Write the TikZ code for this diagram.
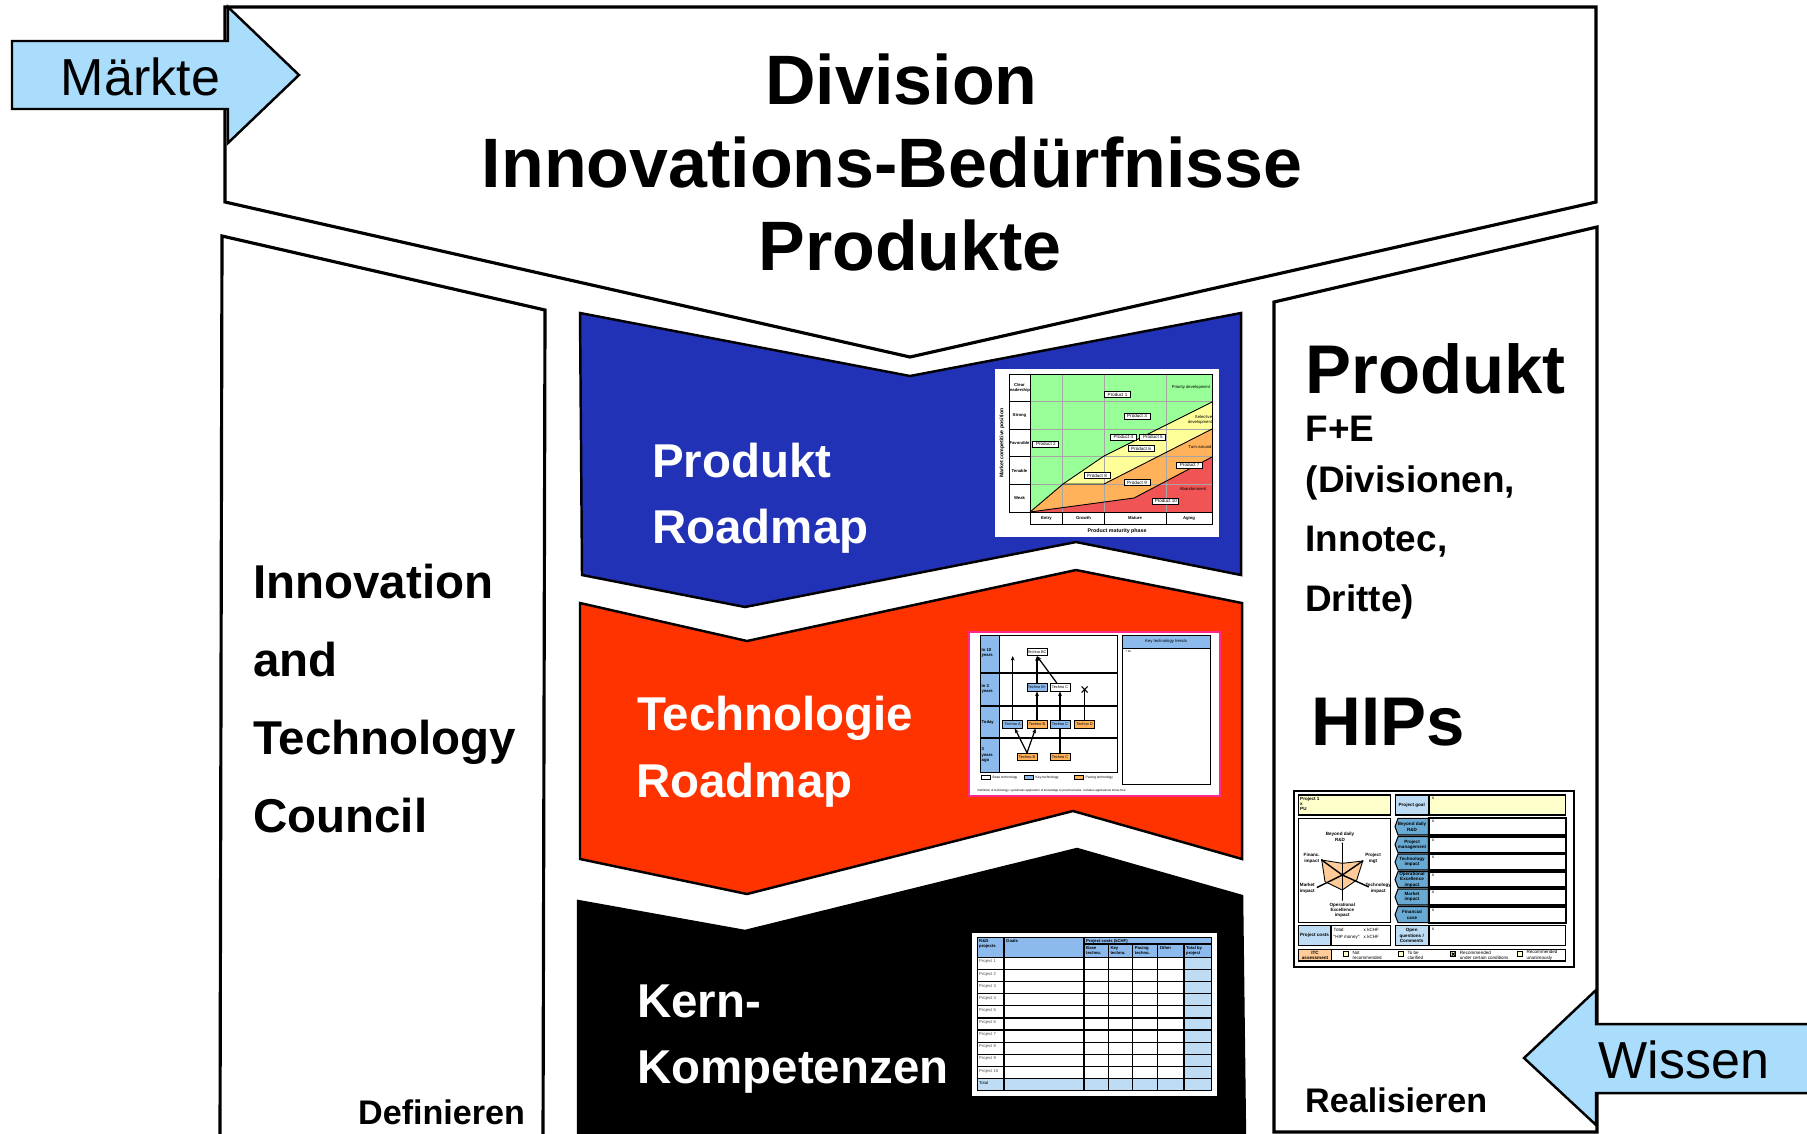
\documentclass[tikz,border=0pt]{standalone}
\usepackage{fontspec}
\setmainfont{Liberation Sans}
\usetikzlibrary{arrows.meta}

\definecolor{pfeilblau}{RGB}{170,220,252}
\definecolor{roadblau}{RGB}{33,50,182}
\definecolor{techrot}{RGB}{255,51,0}
\definecolor{hellblau}{RGB}{140,186,236}
\definecolor{blassblau}{RGB}{190,221,245}
\definecolor{tabblau}{RGB}{105,170,212}
\definecolor{pgruen}{RGB}{153,255,153}
\definecolor{pgelb}{RGB}{255,255,153}
\definecolor{porange}{RGB}{255,178,90}
\definecolor{prot}{RGB}{240,84,84}
\definecolor{hipgelb}{RGB}{255,255,204}
\definecolor{hiporange}{RGB}{255,204,153}
\definecolor{rahmenpink}{RGB}{255,40,140}

\newcommand{\winzig}{\fontsize{1.2}{1.45}\selectfont}
\newcommand{\hipfont}{\fontsize{1.3}{1.55}\selectfont}

\tikzset{
	umriss/.style={draw=black, line width=0.9pt, line join=miter},
	titel/.style={font=\fontsize{19.9}{23}\selectfont\bfseries, anchor=base, inner sep=0},
	rat/.style={font=\fontsize{13.5}{16}\selectfont\bfseries, anchor=base west, inner sep=0},
	weiss/.style={rat, text=white},
	gross/.style={font=\fontsize{19.6}{23}\selectfont\bfseries, anchor=base west, inner sep=0},
	mittel/.style={font=\fontsize{10.5}{12}\selectfont\bfseries, anchor=base west, inner sep=0},
	pfeiltext/.style={font=\fontsize{14.8}{17}\selectfont, anchor=base, inner sep=0},
	fuss/.style={font=\fontsize{9.7}{11}\selectfont\bfseries, anchor=base west, inner sep=0},
	mini/.style={font=\winzig, inner sep=0},
	minifett/.style={font=\winzig\bfseries, inner sep=0},
	hip/.style={font=\hipfont, inner sep=0},
	hipfett/.style={font=\hipfont\bfseries, inner sep=0},
	duenn/.style={line width=0.25pt},
	gitter/.style={gray!70, line width=0.2pt},
	pbox/.style={draw, fill=white, line width=0.25pt, minimum width=0.26cm, minimum height=0.06cm, inner sep=0, font=\fontsize{1.3}{1.5}\selectfont},
	tbox/.style={draw, line width=0.25pt, minimum width=0.2cm, minimum height=0.075cm, inner sep=0, font=\fontsize{1.1}{1.3}\selectfont},
	pfeil/.style={line width=0.35pt, -{Stealth[length=1.3pt, width=1.1pt]}},
	kasten/.style={draw, line width=0.3pt}
}

\begin{document}
\begin{tikzpicture}[x=0.01cm, y=-0.01cm]
	\clip (0,0) rectangle (1807,1133);
	\fill[white] (0,0) rectangle (1807,1133);

	% Rahmen
	\draw[umriss, fill=white] (225,7) -- (1596,7) -- (1596,202) -- (910,357) -- (225,202) -- cycle;
	\draw[umriss, fill=white] (222,236) -- (545,310) -- (543,1140) -- (220,1140) -- cycle;
	\draw[umriss, fill=white] (1274,302) -- (1597,227) -- (1597,1132) -- (1274,1132) -- cycle;

	\draw[umriss, fill=pfeilblau, line width=0.7pt] (12,41) -- (228,41) -- (228,7) -- (299,75) -- (228,143) -- (228,109) -- (12,109) -- cycle;
	\node[pfeiltext] (maerkte) at (140.5,95) {Märkte};
	\draw[umriss, fill=pfeilblau, line width=0.7pt] (1820,1024) -- (1596,1024) -- (1596,990) -- (1524,1058) -- (1596,1125) -- (1596,1093) -- (1820,1093);
	\node[pfeiltext] (wissen) at (1684,1078) {Wissen};

	\draw[umriss, fill=roadblau, line width=0.7pt] (580,313) -- (910,376) -- (1241,313) -- (1241,575) -- (1076,542) -- (745,607) -- (582,575) -- cycle;
	\draw[umriss, fill=techrot, line width=0.7pt] (580,603) -- (747,641) -- (1076,570) -- (1242,603) -- (1242,859) -- (1073,811) -- (747,894) -- (580,859) -- cycle;
	\draw[umriss, fill=black, line width=0.7pt] (578,901) -- (745,931) -- (1077,849) -- (1242,896) -- (1245,1140) -- (578,1140) -- cycle;

	\node[titel] (division) at (901.5,104) {Division};
	\node[titel] (beduerfnis) at (892,187) {Innovations-Bedürfnisse};
	\node[titel] (produkte) at (910,270) {Produkte};

	\node[rat] (itc1) at (252.5,598) {Innovation};
	\node[rat] (itc2) at (252.5,676) {and};
	\node[rat] (itc3) at (252.5,754) {Technology};
	\node[rat] (itc4) at (252.5,832) {Council};
	\node[fuss] (definieren) at (357.5,1124) {Definieren};

	\node[weiss] (prm1) at (651.5,477) {Produkt};
	\node[weiss] (prm2) at (651.5,543) {Roadmap};
	\node[weiss] (trm1) at (636.5,730) {Technologie};
	\node[weiss] (trm2) at (635.5,797) {Roadmap};
	\node[weiss] (kk1) at (636.5,1017) {Kern-};
	\node[weiss] (kk2) at (636.5,1083) {Kompetenzen};

	\node[gross] (produkt) at (1304.5,393.5) {Produkt};
	\node[mittel] (fe) at (1305,441) {F+E};
	\node[mittel] (div) at (1305,492) {(Divisionen,};
	\node[mittel] (innotec) at (1305,551) {Innotec,};
	\node[mittel] (dritte) at (1304.5,611) {Dritte)};
	\node[gross] (hips) at (1311,745) {HIPs};
	\node[fuss] (realisieren) at (1304.5,1112) {Realisieren};

	% Produkt-Roadmap
	\fill[white] (995,369) rectangle (1219,537);
	\fill[pgruen] (1030,374) rectangle (1212,512);
	\fill[pgelb] (1030,512) -- (1063,484) -- (1104,456) -- (1212,402) -- (1212,512) -- cycle;
	\fill[porange] (1030,512) -- (1063,484) -- (1104,484) -- (1212,429) -- (1212,512) -- cycle;
	\fill[prot] (1030,512) -- (1134,498) -- (1212,457) -- (1212,512) -- cycle;
	\foreach \y in {401.7,429.3,456.7,484.3} \draw[gitter] (1030,\y) -- (1212,\y);
	\foreach \x in {1062.7,1104.3,1166} \draw[gitter] (\x,374) -- (\x,512);
	\draw[duenn] (1030,512) -- (1063,484) -- (1104,456) -- (1212,402);
	\draw[duenn] (1063,484) -- (1104,484) -- (1212,429);
	\draw[duenn] (1030,512) -- (1134,498) -- (1212,457);
	\draw[duenn] (1030,374) rectangle (1212,512);
	\draw[duenn] (1009,374) rectangle (1030,512);
	\foreach \y in {401.7,429.3,456.7,484.3} \draw[duenn] (1009,\y) -- (1030,\y);
	\draw[duenn] (1030,512) rectangle (1212,524.3);
	\foreach \x in {1062.7,1104.3,1166} \draw[duenn] (\x,512) -- (\x,524.3);
	\node[minifett, align=center] (rclear) at (1019.5,388) {Clear\\leadership};
	\node[minifett] (rstrong) at (1019.5,415.5) {Strong};
	\node[minifett] (rfav) at (1019.5,443) {Favorable};
	\node[minifett] (rten) at (1019.5,470.5) {Tenable};
	\node[minifett] (rweak) at (1019.5,498) {Weak};
	\node[minifett] (centry) at (1046.4,518.3) {Entry};
	\node[minifett] (cgrowth) at (1083.5,518.3) {Growth};
	\node[minifett] (cmature) at (1135,518.3) {Mature};
	\node[minifett] (caging) at (1189,518.3) {Aging};
	\node[font=\fontsize{1.5}{1.8}\selectfont\bfseries, inner sep=0] (phase) at (1117,531) {Product maturity phase};
	\node[font=\fontsize{1.5}{1.8}\selectfont\bfseries, inner sep=0, rotate=90] (position) at (1002,443) {Market competitive position};
	\node[mini] (lprio) at (1191,387) {Priority development};
	\node[mini, align=right] (lsel) at (1200,420) {Selective\\development};
	\node[mini] (lturn) at (1200,447) {Turn-around};
	\node[mini] (laban) at (1193,489) {Abandonment};
	\node[pbox] (p1) at (1117.5,394.7) {Product 1};
	\node[pbox] (p2) at (1045.8,444) {Product 2};
	\node[pbox] (p3) at (1137,416.3) {Product 3};
	\node[pbox] (p4) at (1123.3,437.2) {Product 4};
	\node[pbox] (p5) at (1152.8,437.2) {Product 5};
	\node[pbox] (p6) at (1141,448.7) {Product 6};
	\node[pbox] (p7) at (1189.7,465.2) {Product 7};
	\node[pbox] (p8) at (1097,475.8) {Product 8};
	\node[pbox] (p9) at (1137,482.7) {Product 9};
	\node[pbox] (p10) at (1165.8,501.3) {Product 10};

	% Technologie-Roadmap
	\draw[rahmenpink, fill=white, line width=0.6pt] (969,632) rectangle (1220,796);
	\fill[hellblau] (980,635) rectangle (999,772);
	\draw[duenn] (980,635) rectangle (1117,772);
	\draw[duenn] (999,635) -- (999,772);
	\foreach \y in {672.7,706,738.3} \draw[line width=0.5pt] (980,\y) -- (1117,\y);
	\node[minifett, anchor=west, align=left] (y10) at (981,653) {In 10\\years};
	\node[minifett, anchor=west, align=left] (y3) at (981,689) {In 3\\years};
	\node[minifett, anchor=west] (ytoday) at (981,722.7) {Today};
	\node[minifett, anchor=west, align=left] (yago) at (981,755) {3\\years\\ago};
	\node[tbox, fill=white] (bc) at (1037,652) {Techno BC};
	\node[tbox, fill=hellblau] (bp) at (1037,687.3) {Techno B+};
	\node[tbox, fill=white] (c3) at (1060,687.3) {Techno C};
	\node[tbox, fill=hellblau] (ta) at (1012.7,724.3) {Techno A};
	\node[tbox, fill=porange] (tb) at (1037,724.3) {Techno B};
	\node[tbox, fill=hellblau] (tc) at (1060,724.3) {Techno C};
	\node[tbox, fill=porange] (td) at (1084.5,724.3) {Techno D};
	\node[tbox, fill=porange] (vb) at (1027,757) {Techno B};
	\node[tbox, fill=porange] (vc) at (1060,757) {Techno C};
	\coordinate (ta10) at (1012.7,656);
	\coordinate (dx) at (1084.5,690);
	\draw[pfeil] (ta) -- (ta10);
	\draw[pfeil] (tb) -- (bp);
	\draw[pfeil] (bp) -- (bc);
	\draw[pfeil] (c3) -- (bc.south);
	\draw[pfeil] (tc) -- (c3);
	\draw[line width=0.5pt] (td) -- (dx);
	\draw[line width=0.3pt] (1081.5,686.5) -- (1087.5,692.5) (1081.5,692.5) -- (1087.5,686.5);
	\draw[pfeil] (vb.north) -- (ta);
	\draw[pfeil] (vb.north) -- (tb);
	\draw[line width=0.5pt] (vc) -- (tc);
	\draw[duenn, fill=white] (981,775.5) rectangle (990,779);
	\node[font=\fontsize{0.95}{1.1}\selectfont, inner sep=0, anchor=west] (lbase) at (992,777.3) {Base technology};
	\draw[duenn, fill=hellblau] (1024,775.5) rectangle (1033,779);
	\node[font=\fontsize{0.95}{1.1}\selectfont, inner sep=0, anchor=west] (lkey) at (1035,777.3) {Key technology};
	\draw[duenn, fill=porange] (1074,775.5) rectangle (1083,779);
	\node[font=\fontsize{0.95}{1.1}\selectfont, inner sep=0, anchor=west] (lpace) at (1085,777.3) {Pacing technology};
	\node[font=\fontsize{0.85}{1}\selectfont, inner sep=0, anchor=west] (defn) at (977,790.7) {Definition of technology: systematic application of knowledge to practical tasks. Includes applications know-how.};
	\fill[hellblau] (1122,635) rectangle (1210,648);
	\draw[duenn] (1122,635) rectangle (1210,784);
	\draw[duenn] (1122,648) -- (1210,648);
	\node[mini] (trends) at (1166,641.5) {Key technology trends};
	\node[font=\fontsize{0.95}{1.1}\selectfont, inner sep=0, anchor=west] (xx) at (1125,652) {• xx};

	% Kern-Kompetenzen
	\fill[white] (972,933) rectangle (1217,1096);
	\fill[hellblau] (977.3,937.3) rectangle (1211.7,957.3);
	\fill[blassblau] (977.3,1078.3) rectangle (1211.7,1090.7);
	\fill[blassblau] (1184,957.3) rectangle (1211.7,1090.7);
	\foreach \k in {0,...,11} \draw[line width=0.35pt] (977.3,{957.3+12.13*\k}) -- (1211.7,{957.3+12.13*\k});
	\foreach \x in {977.3,1004,1084,1211.7} \draw[line width=0.35pt] (\x,937.3) -- (\x,1090.7);
	\foreach \x in {1108.3,1132.7,1157.7,1184} \draw[line width=0.35pt] (\x,944) -- (\x,1090.7);
	\draw[line width=0.35pt] (977.3,937.3) -- (1211.7,937.3);
	\draw[line width=0.35pt] (1084,944) -- (1211.7,944);
	\node[minifett, anchor=north west, align=left] (hrd) at (978.5,938.5) {R\&D\\projects};
	\node[minifett, anchor=north west] (hgoals) at (1005.5,938.5) {Goals};
	\node[minifett, anchor=north west] (hcost) at (1085.5,938.5) {Project costs (kCHF)};
	\node[minifett, anchor=north west, align=left] (hbase) at (1085.5,945.5) {Base\\techno.};
	\node[minifett, anchor=north west, align=left] (hkey) at (1109.8,945.5) {Key\\techno.};
	\node[minifett, anchor=north west, align=left] (hpace) at (1134.2,945.5) {Pacing\\techno.};
	\node[minifett, anchor=north west] (hother) at (1159.2,945.5) {Other};
	\node[minifett, anchor=north west, align=left] (htotal) at (1185.5,945.5) {Total by\\project};
	\foreach \k in {1,...,10} \node[mini, anchor=north west, text=black!70] (proj\k) at (978.5,{957.3+12.13*(\k-1)+1.8}) {Project \k};
	\node[mini, anchor=north west] (total) at (978.5,1080.1) {Total};

	% HIP-Blatt
	\draw[line width=0.6pt, fill=white] (1294,791) rectangle (1574,967);
	\draw[kasten, fill=hipgelb] (1298.3,795) rectangle (1390,815);
	\node[hipfett, anchor=north west, align=left] (hproj) at (1299.5,796) {Project 1\\x\\PU};
	\draw[kasten, fill=blassblau] (1395,795) rectangle (1428.3,815);
	\node[hipfett] (hgoal) at (1411.7,805) {Project goal};
	\draw[kasten, fill=hipgelb] (1429.3,795) rectangle (1565.7,815);
	\node[hip, anchor=north west] (hgx) at (1430.5,796) {x};
	\draw[kasten] (1298.3,818.3) rectangle (1390,922.7);
	\foreach \ya/\yb/\txt in {818.3/835/{Beyond daily\\R\&D}, 836.7/852.7/{Project\\management}, 854/870/{Technology\\impact}, 871.7/887.3/{Operational\\Excellence\\impact}, 889/905/{Market\\impact}, 906.7/922.7/{Financial\\case}} {
		\draw[kasten, fill=tabblau] (1398,\ya) -- (1428.3,\ya) -- (1428.3,\yb) -- (1398,\yb) -- (1395,{(\ya+\yb)/2}) -- cycle;
		\node[hipfett, align=center] at (1412,{(\ya+\yb)/2}) {\txt};
		\draw[line width=0.5pt] (1429.3,\ya) rectangle (1565.7,\yb);
		\node[hip, anchor=north west] at (1430.5,{\ya+1}) {x};
	}
	\draw[kasten, fill=blassblau] (1298.3,925.7) rectangle (1330.7,945.7);
	\node[hipfett] (hcosts) at (1314.5,935.7) {Project costs};
	\draw[kasten] (1331.7,925.7) rectangle (1390,945.7);
	\node[hip, anchor=west] (htot) at (1333,929.5) {Total:};
	\node[hip, anchor=west] (htotx) at (1363,929.5) {x kCHF};
	\node[hip, anchor=west] (hmoney) at (1333,937) {“HIP money”:};
	\node[hip, anchor=west] (hmoneyx) at (1363,937) {x kCHF};
	\draw[kasten, fill=blassblau] (1395,925.7) rectangle (1428.3,945.7);
	\node[hipfett, align=center] (hopen) at (1411.7,935.7) {Open\\questions /\\Comments};
	\draw[kasten] (1429.3,925.7) rectangle (1565.7,945.7);
	\node[hip, anchor=north west] (hox) at (1430.5,926.7) {x};
	\draw[kasten] (1298.3,949.3) rectangle (1565.7,961);
	\draw[kasten, fill=hiporange] (1298.3,949.3) rectangle (1331.7,961);
	\node[hipfett, align=center] (hitc) at (1315,955.2) {ITC\\assessment};
	\foreach \bx/\txt in {1343.3/{Not\\recommended}, 1398.3/{To be\\clarified}, 1450.7/{Recommended\\under certain conditions}, 1517.3/{Recommended\\unanimously}} {
		\draw[kasten, fill=hipgelb] (\bx,951.7) rectangle ({\bx+5},956.7);
		\node[hip, anchor=west, align=left] at ({\bx+8.5},955.2) {\txt};
	}
	\draw[line width=0.3pt] (1451.7,952.7) -- (1454.7,955.7) (1451.7,955.7) -- (1454.7,952.7);
	\coordinate (sm) at (1342.3,875);
	\coordinate (s1) at (1342.3,843.3);
	\coordinate (s2) at (1362.7,861);
	\coordinate (s3) at (1368.3,886.7);
	\coordinate (s4) at (1342.3,900);
	\coordinate (s5) at (1317.3,887.3);
	\coordinate (s6) at (1321.7,860);
	\fill[hiporange, draw=black, line width=0.25pt] (1342.3,863.3) -- (1362.7,861) -- (1356.7,880) -- (1342.3,890) -- (1325,881.7) -- (1321.7,860) -- cycle;
	\foreach \s in {s1,s2,s3,s4,s5,s6} {
		\draw[line width=0.4pt] (sm) -- (\s);
		\fill (\s) circle (0.8);
	}
	\node[hipfett, align=center, anchor=south] (sbeyond) at (1340,842) {Beyond daily\\R\&D};
	\node[hipfett, align=center] (spm) at (1373,858.3) {Project\\mgt};
	\node[hipfett, align=center] (stech) at (1378.3,888.3) {Technology\\impact};
	\node[hipfett, align=center, anchor=north] (sops) at (1342.3,902) {Operational\\Excellence\\impact};
	\node[hipfett, align=center] (smarket) at (1307.3,888.3) {Market\\impact};
	\node[hipfett, align=center] (sfin) at (1311.7,858.3) {Financ.\\impact};

\end{tikzpicture}
\end{document}
